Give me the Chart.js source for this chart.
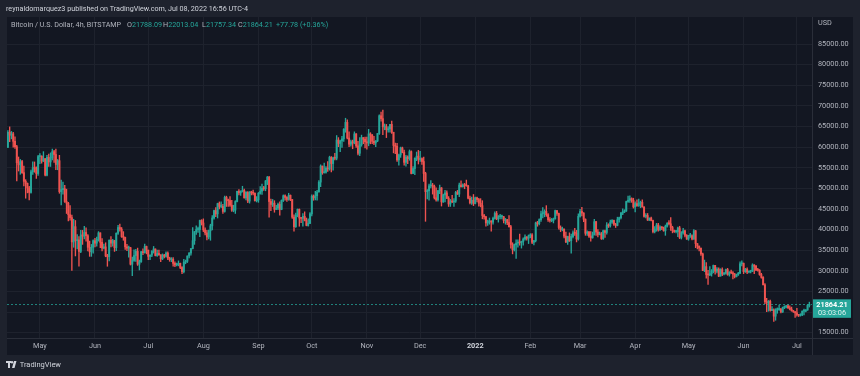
<!DOCTYPE html>
<html>
<head>
<meta charset="utf-8">
<script src="https://cdn.jsdelivr.net/npm/chart.js@4.4.1/dist/chart.umd.min.js"></script>
<style>
  html, body { margin: 0; padding: 0; background: #1e222d; }
  #wrap { position: relative; width: 860px; height: 376px; overflow: hidden; font-family: Roboto, "Noto Sans", sans-serif; }
  #wrap canvas { position: absolute; left: 0; top: 0; }
  .t { position: absolute; white-space: nowrap; font-size: 7.2px; line-height: 10px; }
  .g { color: #b2b5be; }
  .v { color: #26a69a; }
</style>
</head>
<body>
<div id="wrap">
  <canvas id="c" width="860" height="376"></canvas>
  <div class="t" style="left:6px;top:4px;color:#d1d4dc">reynaldomarquez3 published on TradingView.com, Jul 08, 2022 16:56 UTC-4</div>
  <div class="t g" style="left:11px;top:20px">Bitcoin / U.S. Dollar, 4h, BITSTAMP</div>
  <div class="t" style="left:127px;top:20px"><span class="g">O</span><span class="v">21788.09</span></div>
  <div class="t" style="left:163px;top:20px"><span class="g">H</span><span class="v">22013.04</span></div>
  <div class="t" style="left:202px;top:20px"><span class="g">L</span><span class="v">21757.34</span></div>
  <div class="t" style="left:238px;top:20px"><span class="g">C</span><span class="v">21864.21</span></div>
  <div class="t v" style="left:276px;top:20px">+77.78 (+0.36%)</div>
  <div class="t" style="left:6px;top:360px;color:#d1d4dc;font-size:7.5px">
    <svg width="12" height="7" viewBox="0 0 12 7" style="vertical-align:-1px">
      <rect x="0" y="0" width="5" height="2" fill="#d1d4dc"/>
      <rect x="2" y="0" width="2" height="7" fill="#d1d4dc"/>
      <circle cx="6" cy="1.2" r="1.2" fill="#d1d4dc"/>
      <polygon points="8,0 10.5,0 8.5,7 6,7" fill="#d1d4dc"/>
    </svg> TradingView</div>
</div>
<script>
// BTC/USD daily candles, Apr 13 2021 .. Jul 8 2022, in thousands of USD
const firstOpen = 59.9;

const closes = [
  63.6, 62.9, 63.2, 61.4, 60.1, 56.2, 55.7, 56.5, 53.8, 51.7, 51.2, 50.1, 49.0, 54.0, 55.0, 54.9, 53.6, 57.7,
  57.8, 56.6, 57.2, 53.2, 57.5, 56.4, 57.4, 58.9, 58.2, 55.8, 56.7, 49.2, 49.7, 49.9, 46.8, 46.4, 43.6, 42.9, 37.0, 40.7, 37.3, 37.5, 34.7, 38.7, 38.4, 39.3, 38.5, 35.7, 34.6, 35.7, 37.3,
  36.7, 37.6, 39.2, 36.9, 35.5, 35.8, 33.6, 33.4, 37.4, 36.7, 37.3, 35.6, 39.1, 40.5, 40.1, 38.3, 38.1, 35.8, 35.5, 35.6, 31.6, 32.5, 33.7, 34.7, 31.6, 32.2, 34.6, 34.4, 35.9, 35.0,
  33.5, 33.8, 34.7, 35.3, 33.7, 34.2, 33.9, 32.9, 33.8, 33.5, 34.3, 33.1, 32.7, 32.8, 31.8, 31.4, 31.5, 31.8, 30.8, 29.8, 32.1, 32.3, 33.6, 34.3, 35.4, 37.3, 39.5, 40.0, 40.0, 42.2, 41.6,
  39.9, 39.2, 38.2, 39.7, 40.9, 42.8, 44.6, 43.8, 46.3, 45.6, 45.6, 44.4, 47.8, 47.1, 47.0, 45.9, 44.7, 44.7, 46.8, 49.3, 48.9, 49.3, 49.5, 47.7, 49.0, 46.9, 49.1, 48.9, 48.8, 47.0, 47.2,
  48.8, 49.3, 50.0, 49.9, 51.8, 52.7, 46.8, 46.1, 46.4, 44.9, 45.2, 46.1, 44.9, 47.1, 48.2, 47.8, 47.3, 48.3, 47.3, 43.0, 40.7, 43.5, 44.9, 42.8, 42.7, 43.2, 42.2, 41.0, 41.5, 43.8,
  48.1, 47.7, 48.2, 49.1, 51.5, 55.4, 53.8, 53.9, 54.9, 54.7, 57.5, 56.0, 57.4, 57.3, 61.7, 60.9, 61.5, 62.0, 64.3, 66.0, 62.2, 60.7, 61.3, 61.0, 63.2, 60.3, 58.5, 60.6, 62.3, 61.9, 61.3,
  61.0, 63.2, 62.9, 61.4, 61.0, 61.5, 63.3, 67.6, 66.9, 64.9, 64.9, 64.2, 64.4, 65.5, 63.6, 60.4, 60.2, 56.9, 58.1, 59.8, 58.7, 56.3, 57.6, 57.2, 58.9, 53.6, 54.8, 57.3, 57.8, 57.0,
  57.2, 56.5, 53.6, 49.2, 49.4, 50.6, 50.6, 50.5, 47.7, 47.2, 49.4, 50.1, 46.7, 48.4, 48.9, 47.6, 46.2, 46.8, 46.7, 46.9, 49.0, 48.6, 50.8, 50.4, 50.8, 50.7, 50.6, 47.6, 46.5, 47.1, 46.3,
  47.7, 47.3, 46.4, 45.8, 43.4, 43.1, 41.6, 41.9, 42.0, 41.8, 42.7, 43.9, 42.6, 43.1, 43.1, 43.1, 42.2, 42.4, 41.7, 40.7, 36.4, 35.1, 36.3, 36.7, 36.9, 36.8, 37.1, 37.7, 38.2, 37.9, 38.5,
  38.7, 36.9, 37.3, 41.6, 41.4, 42.4, 43.8, 44.1, 44.4, 43.6, 42.4, 42.2, 42.2, 42.6, 44.6, 43.9, 40.5, 40.0, 40.1, 38.4, 37.0, 38.3, 37.3, 38.3, 39.2, 39.1, 37.7, 43.2,
  44.4, 44.0, 42.5, 39.1, 39.4, 38.4, 38.0, 38.7, 41.9, 39.4, 38.8, 38.9, 37.8, 39.7, 39.3, 41.1, 40.9, 41.8, 42.2, 41.3, 41.0, 42.4, 42.9, 44.0, 44.3, 44.5, 46.8, 47.1, 47.5, 47.1, 45.5,
  46.3, 45.8, 46.4, 46.6, 45.5, 43.2, 43.4, 42.3, 42.8, 42.2, 39.5, 40.1, 41.1, 39.9, 40.6, 40.4, 39.7, 40.8, 41.5, 41.4, 40.5, 39.7, 39.5, 39.5, 40.4, 38.1, 39.2, 39.7, 38.6, 37.7,
  38.5, 38.5, 37.7, 39.7, 36.6, 36.0, 35.5, 34.1, 30.1, 31.0, 29.1, 29.0, 29.3, 29.9, 31.3, 29.9, 30.4, 28.7, 30.3, 29.2, 29.4, 30.3, 29.1, 29.6, 29.5, 29.2, 28.6, 29.0, 29.4, 31.7, 31.8,
  29.8, 30.4, 29.7, 29.9, 29.9, 31.4, 31.1, 30.2, 30.1, 29.1, 28.4, 26.6, 22.5, 22.2, 22.6, 20.4, 20.5, 19.0, 20.6, 20.6, 20.7, 20.0, 21.1, 21.2, 21.5, 21.0, 20.7, 20.3, 20.1, 19.8,
  19.3, 19.2, 19.3, 20.2, 20.2, 20.5, 21.6, 21.86
];

const highs = [
  64.0, 64.9, 63.8, 63.6, 62.5, 60.4, 57.6, 57.0, 56.8, 55.4, 52.1, 51.3, 50.5, 54.4, 56.4, 56.4, 55.2, 58.0,
  58.4, 57.9, 58.9, 57.2, 58.0, 58.3, 58.6, 59.5, 59.2, 59.5, 57.0, 58.0, 52.0, 51.5, 50.7, 49.8, 46.6, 45.8, 43.5, 42.5, 42.2, 38.8, 38.3, 39.8, 39.8, 40.8, 40.4, 38.8, 37.2, 36.4, 37.5,
  37.9, 38.2, 39.5, 39.2, 37.8, 36.5, 36.8, 34.0, 37.5, 38.3, 37.6, 37.4, 39.2, 41.0, 41.3, 40.5, 39.5, 38.2, 36.4, 36.0, 35.7, 33.3, 35.1, 35.2, 35.5, 32.6, 34.7, 35.3, 36.5, 36.0,
  35.0, 33.9, 34.9, 35.9, 35.3, 35.0, 35.0, 33.9, 34.1, 34.0, 34.6, 34.6, 33.3, 33.2, 33.2, 32.2, 31.9, 32.4, 31.9, 31.0, 32.8, 32.6, 33.6, 34.4, 35.4, 40.5, 39.5, 40.9, 40.6, 42.3, 42.4,
  42.6, 40.4, 39.8, 39.9, 41.3, 43.4, 44.7, 45.3, 46.4, 46.7, 46.7, 46.1, 48.1, 48.1, 47.4, 48.0, 47.1, 45.9, 47.0, 49.3, 49.7, 49.4, 50.5, 49.8, 49.2, 49.2, 49.2, 49.3, 49.6, 48.9, 48.0,
  49.0, 50.4, 51.0, 50.5, 51.9, 52.9, 52.9, 47.4, 47.3, 47.0, 45.9, 46.4, 46.7, 47.2, 48.4, 48.4, 48.0, 48.8, 48.4, 47.3, 43.6, 44.0, 45.0, 45.0, 42.9, 43.9, 44.3, 42.8, 42.6, 44.1,
  48.4, 48.4, 49.3, 49.5, 51.9, 55.7, 55.4, 56.1, 55.3, 56.5, 57.8, 57.7, 57.6, 58.5, 62.8, 62.3, 61.7, 62.6, 64.5, 67.0, 66.6, 63.7, 61.7, 61.7, 63.7, 63.3, 61.4, 62.3, 62.9, 62.3, 62.4,
  62.4, 64.3, 63.5, 63.1, 62.6, 61.6, 63.3, 67.8, 68.5, 69.0, 65.6, 65.5, 65.0, 65.5, 66.3, 63.6, 61.0, 60.9, 58.3, 60.0, 60.0, 59.3, 58.0, 57.9, 59.3, 59.1, 55.3, 57.4, 58.8, 59.2,
  59.0, 57.4, 57.6, 53.9, 49.7, 51.0, 51.9, 51.2, 50.8, 50.1, 49.5, 50.8, 50.2, 48.6, 49.5, 49.4, 48.0, 47.3, 48.3, 47.5, 49.3, 49.5, 51.3, 51.8, 51.1, 51.2, 52.0, 50.7, 48.1, 47.9, 48.5,
  47.9, 47.9, 47.6, 47.5, 47.0, 43.7, 43.2, 42.3, 42.8, 42.2, 43.0, 44.3, 44.4, 43.4, 43.7, 43.5, 43.2, 42.7, 42.5, 43.4, 41.0, 36.8, 36.5, 37.5, 37.5, 38.9, 37.2, 38.0, 38.7, 38.3, 38.7,
  39.0, 39.0, 37.4, 41.8, 42.0, 42.6, 44.5, 45.3, 44.8, 45.8, 43.9, 42.9, 42.7, 42.8, 44.7, 44.5, 44.0, 40.9, 40.6, 40.2, 39.4, 38.4, 39.2, 38.9, 39.7, 40.3, 39.8, 43.8,
  44.9, 45.4, 44.1, 42.6, 39.7, 39.6, 39.5, 39.4, 42.5, 42.0, 40.0, 39.4, 39.3, 39.9, 39.9, 41.7, 41.4, 42.3, 42.4, 42.3, 41.5, 43.0, 43.0, 44.2, 45.0, 44.8, 46.9, 48.1, 48.2, 47.7, 47.6,
  46.7, 47.2, 47.4, 46.9, 47.2, 45.5, 43.9, 43.9, 42.8, 43.0, 42.3, 40.7, 41.5, 41.5, 40.9, 40.7, 40.6, 41.1, 41.7, 42.2, 42.9, 40.8, 39.9, 39.8, 40.6, 40.8, 39.5, 40.3, 39.9, 38.8,
  38.6, 39.1, 38.7, 40.0, 39.8, 36.6, 36.0, 35.5, 34.3, 32.6, 32.0, 30.1, 31.0, 30.3, 31.4, 31.3, 30.8, 30.7, 30.5, 30.7, 29.6, 30.4, 30.6, 29.8, 30.2, 29.8, 29.4, 29.2, 29.6, 32.2, 32.4,
  31.9, 30.6, 30.7, 29.9, 30.1, 31.7, 31.5, 31.3, 30.6, 30.3, 29.4, 28.6, 26.9, 23.3, 22.8, 22.9, 21.3, 20.8, 20.8, 21.0, 21.7, 20.9, 21.2, 21.5, 21.6, 21.8, 21.5, 21.2, 20.4, 20.1,
  20.9, 19.4, 19.6, 20.3, 20.7, 20.6, 21.8, 22.4
];

const lows = [
  59.9, 61.3, 62.0, 60.0, 59.7, 51.8, 54.2, 53.4, 53.6, 50.6, 47.6, 48.9, 47.2, 48.8, 53.4, 53.9, 52.4, 53.1,
  56.0, 56.1, 56.5, 53.0, 53.0, 55.3, 55.3, 56.9, 56.3, 54.5, 54.5, 48.8, 46.0, 48.6, 46.6, 43.9, 42.1, 42.3, 30.1, 35.7, 33.6, 35.3, 31.1, 34.4, 36.4, 37.7, 37.2, 34.8, 33.5, 33.5, 34.3,
  35.8, 36.0, 37.2, 35.6, 34.8, 35.3, 33.4, 31.1, 32.4, 35.8, 36.0, 34.7, 34.9, 38.8, 39.6, 38.1, 37.4, 35.2, 34.9, 33.3, 31.4, 28.8, 32.3, 32.3, 31.3, 30.2, 32.0, 33.9, 34.3, 34.1,
  32.7, 32.7, 33.4, 34.3, 33.6, 33.5, 33.7, 32.2, 32.7, 33.1, 33.3, 32.7, 32.3, 32.2, 31.1, 31.0, 31.2, 31.2, 30.5, 29.3, 29.5, 31.7, 32.0, 33.1, 33.8, 35.3, 36.4, 38.8, 39.3, 38.3, 41.1,
  39.5, 38.7, 37.5, 37.7, 37.4, 39.9, 42.5, 43.1, 42.8, 45.0, 45.3, 43.9, 44.2, 45.6, 45.6, 45.6, 44.4, 44.3, 43.9, 46.7, 48.4, 48.3, 49.1, 47.6, 47.2, 46.5, 46.4, 48.4, 48.4, 46.9, 46.7,
  46.6, 48.6, 48.5, 49.5, 49.4, 50.9, 43.0, 44.6, 45.6, 44.2, 44.8, 44.8, 43.5, 44.8, 46.8, 47.1, 46.8, 47.1, 47.0, 42.7, 39.6, 40.5, 43.1, 40.8, 41.7, 40.8, 42.1, 40.9, 40.8, 41.4,
  43.3, 47.1, 47.2, 47.1, 49.1, 50.4, 53.4, 53.7, 53.7, 54.1, 54.4, 54.0, 54.4, 56.9, 56.9, 60.1, 58.9, 59.9, 61.4, 63.6, 62.0, 60.1, 60.2, 59.6, 60.8, 59.9, 58.1, 57.9, 60.2, 60.8, 59.8,
  59.5, 60.3, 60.8, 60.8, 60.6, 60.1, 61.3, 63.1, 66.3, 63.0, 64.2, 62.3, 63.6, 63.6, 63.3, 58.6, 58.4, 56.5, 55.6, 57.5, 58.6, 55.6, 55.4, 56.0, 56.8, 53.5, 53.6, 53.3, 56.7, 55.9,
  56.5, 55.8, 51.7, 42.0, 47.4, 47.1, 50.1, 48.6, 47.4, 46.9, 46.9, 48.7, 45.7, 46.6, 46.7, 47.5, 45.6, 45.6, 46.5, 45.6, 46.6, 48.5, 48.0, 50.3, 50.3, 49.9, 50.5, 47.4, 46.2, 46.1, 45.8,
  46.2, 46.7, 45.7, 45.5, 42.6, 42.5, 40.8, 41.0, 41.3, 39.6, 41.3, 42.5, 42.4, 41.8, 42.6, 42.6, 41.6, 41.3, 41.2, 40.6, 35.5, 34.1, 34.8, 33.0, 35.7, 36.2, 35.5, 36.2, 37.4, 37.4, 36.6,
  38.0, 36.6, 36.3, 37.0, 40.8, 41.1, 42.0, 42.8, 43.1, 43.2, 42.0, 41.8, 41.9, 41.6, 42.5, 43.4, 40.1, 39.5, 39.7, 38.0, 36.8, 36.4, 37.1, 34.3, 38.0, 38.6, 37.0, 37.4,
  43.0, 43.3, 41.9, 38.6, 38.6, 38.1, 37.2, 37.9, 38.7, 38.6, 38.2, 38.7, 37.6, 37.6, 38.1, 38.9, 40.5, 40.6, 41.5, 41.0, 40.5, 40.9, 41.8, 42.6, 43.6, 44.1, 44.4, 46.6, 46.6, 46.6, 45.2,
  44.3, 45.6, 45.6, 45.3, 45.4, 43.0, 42.8, 42.2, 42.2, 42.1, 39.2, 39.2, 39.6, 39.6, 39.8, 40.0, 39.6, 38.6, 40.6, 41.1, 39.8, 39.2, 39.3, 39.2, 38.3, 37.8, 37.7, 38.9, 38.2, 37.6,
  37.4, 38.1, 37.5, 37.6, 35.6, 35.3, 34.8, 33.7, 30.0, 29.8, 28.2, 26.7, 28.8, 28.7, 29.5, 29.2, 29.5, 28.6, 28.7, 28.8, 29.0, 29.2, 28.9, 28.7, 29.3, 28.0, 28.3, 28.5, 28.9, 29.3, 31.2,
  29.3, 29.6, 29.3, 29.5, 29.5, 29.8, 29.3, 30.0, 29.9, 28.9, 28.2, 26.6, 22.0, 20.1, 20.2, 20.2, 20.3, 17.7, 18.0, 19.7, 20.4, 19.8, 19.9, 20.8, 21.0, 20.9, 20.5, 20.2, 19.9, 18.7,
  19.0, 18.9, 19.0, 19.1, 19.3, 20.0, 20.4, 21.2
];

const startDate = [2021, 3, 13];   // y, month index, day
const monthNames = ["2022", "Feb", "Mar", "Apr", "May", "Jun", "Jul", "Aug", "Sep", "Oct", "Nov", "Dec"];
const priceTicks = [15000, 20000, 25000, 30000, 35000, 40000, 45000, 50000, 55000, 60000, 65000, 70000, 75000, 80000, 85000, 90000];
const lastPrice = 21864.21;
const countdown = "03:03:06";

const UP = "#26a69a";
const DOWN = "#ef5350";

// one label per day, plus one empty slot on the right
let labels = [];
for (let i = 0; i <= closes.length; i++) {
  const d = new Date(Date.UTC(startDate[0], startDate[1], startDate[2] + i));
  labels.push(d.toISOString().slice(0, 10));
}

let bodies = [];
let wicks = [];
let colors = [];
for (let i = 0; i < closes.length; i++) {
  const o = i === 0 ? firstOpen : closes[i - 1];
  const c = closes[i];
  const h = Math.max(highs[i], o, c);
  const l = Math.min(lows[i], o, c);
  bodies.push([o * 1000, c * 1000]);
  wicks.push([l * 1000, h * 1000]);
  colors.push(c >= o ? UP : DOWN);
}

function tickText(label) {
  if (!label || label.slice(8) !== "01") return "";
  return monthNames[parseInt(label.slice(5, 7), 10) - 1];
}

const frame = {
  id: "frame",
  beforeDraw(chart) {
    const ctx = chart.ctx;
    ctx.save();
    ctx.fillStyle = "#1e222d";
    ctx.fillRect(0, 0, chart.width, chart.height);
    ctx.fillStyle = "#131722";
    ctx.fillRect(7, 17, 846, 338);
    ctx.restore();
  },
  afterDraw(chart) {
    const ctx = chart.ctx;
    const a = chart.chartArea;
    const y = chart.scales.y;
    ctx.save();
    ctx.strokeStyle = "#2a2e39";
    ctx.lineWidth = 1;
    ctx.beginPath();
    ctx.moveTo(7, Math.round(a.bottom) + 0.5);
    ctx.lineTo(853, Math.round(a.bottom) + 0.5);
    ctx.moveTo(Math.round(a.right) + 0.5, 17);
    ctx.lineTo(Math.round(a.right) + 0.5, 355);
    ctx.stroke();

    // last price line
    const py = y.getPixelForValue(lastPrice);
    ctx.strokeStyle = "rgba(38,166,154,0.75)";
    ctx.setLineDash([2, 2]);
    ctx.beginPath();
    ctx.moveTo(a.left, Math.round(py) + 0.5);
    ctx.lineTo(a.right, Math.round(py) + 0.5);
    ctx.stroke();
    ctx.setLineDash([]);

    // last price label on the axis
    ctx.fillStyle = UP;
    ctx.fillRect(a.right + 1, py - 5, 38, 18.5);
    ctx.textAlign = "center";
    ctx.textBaseline = "middle";
    ctx.fillStyle = "#ffffff";
    ctx.font = "bold 7.3px Roboto";
    ctx.fillText(lastPrice.toFixed(2), a.right + 20, py + 0.5);
    ctx.fillStyle = "#e0f2f1";
    ctx.font = "7.3px Roboto";
    ctx.fillText(countdown, a.right + 20, py + 9);
    ctx.restore();
  }
};

const config = {
  type: "bar",
  data: {
    labels: labels,
    datasets: [
      {
        label: "bodies",
        data: bodies,
        backgroundColor: colors,
        barThickness: 1.3,
        minBarLength: 1,
        grouped: false,
        order: 1,
      },
      {
        label: "wicks",
        data: wicks,
        backgroundColor: colors,
        barThickness: 0.7,
        grouped: false,
        order: 2,
      },
    ],
  },
  options: {
    responsive: false,
    animation: false,
    events: [],
    layout: { padding: { left: 7, right: 7, top: 17, bottom: 21 } },
    plugins: { legend: { display: false }, tooltip: { enabled: false } },
    scales: {
      x: {
        type: "category",
        offset: true,
        afterFit: (s) => { s.height = 17; },
        border: { display: false },
        grid: {
          offset: false,
          drawTicks: false,
          color: (ctx) => (ctx.tick && ctx.tick.label ? "#1e222d" : "rgba(0,0,0,0)"),
        },
        ticks: {
          autoSkip: false,
          maxRotation: 0,
          padding: 4,
          color: (ctx) => (ctx.tick && ctx.tick.label === "2022" ? "#d1d4dc" : "#b2b5be"),
          font: (ctx) => ({
            family: "Roboto",
            size: 7.3,
            weight: ctx.tick && ctx.tick.label === "2022" ? "bold" : "normal",
          }),
          callback: function (value) {
            return tickText(this.getLabelForValue(value));
          },
        },
      },
      y: {
        position: "right",
        min: 13700,
        max: 91550,
        afterFit: (s) => { s.width = 41; },
        afterBuildTicks: (s) => { s.ticks = priceTicks.map((v) => ({ value: v })); },
        border: { display: false },
        grid: {
          drawTicks: false,
          color: (ctx) => (ctx.tick && ctx.tick.value === 90000 ? "rgba(0,0,0,0)" : "#1e222d"),
        },
        ticks: {
          padding: 6,
          color: "#b2b5be",
          font: { family: "Roboto", size: 7.3 },
          callback: (v) => (v === 90000 ? "USD" : v.toFixed(2)),
        },
      },
    },
  },
  plugins: [frame],
};

new Chart(document.getElementById("c"), config);
</script>
</body>
</html>
